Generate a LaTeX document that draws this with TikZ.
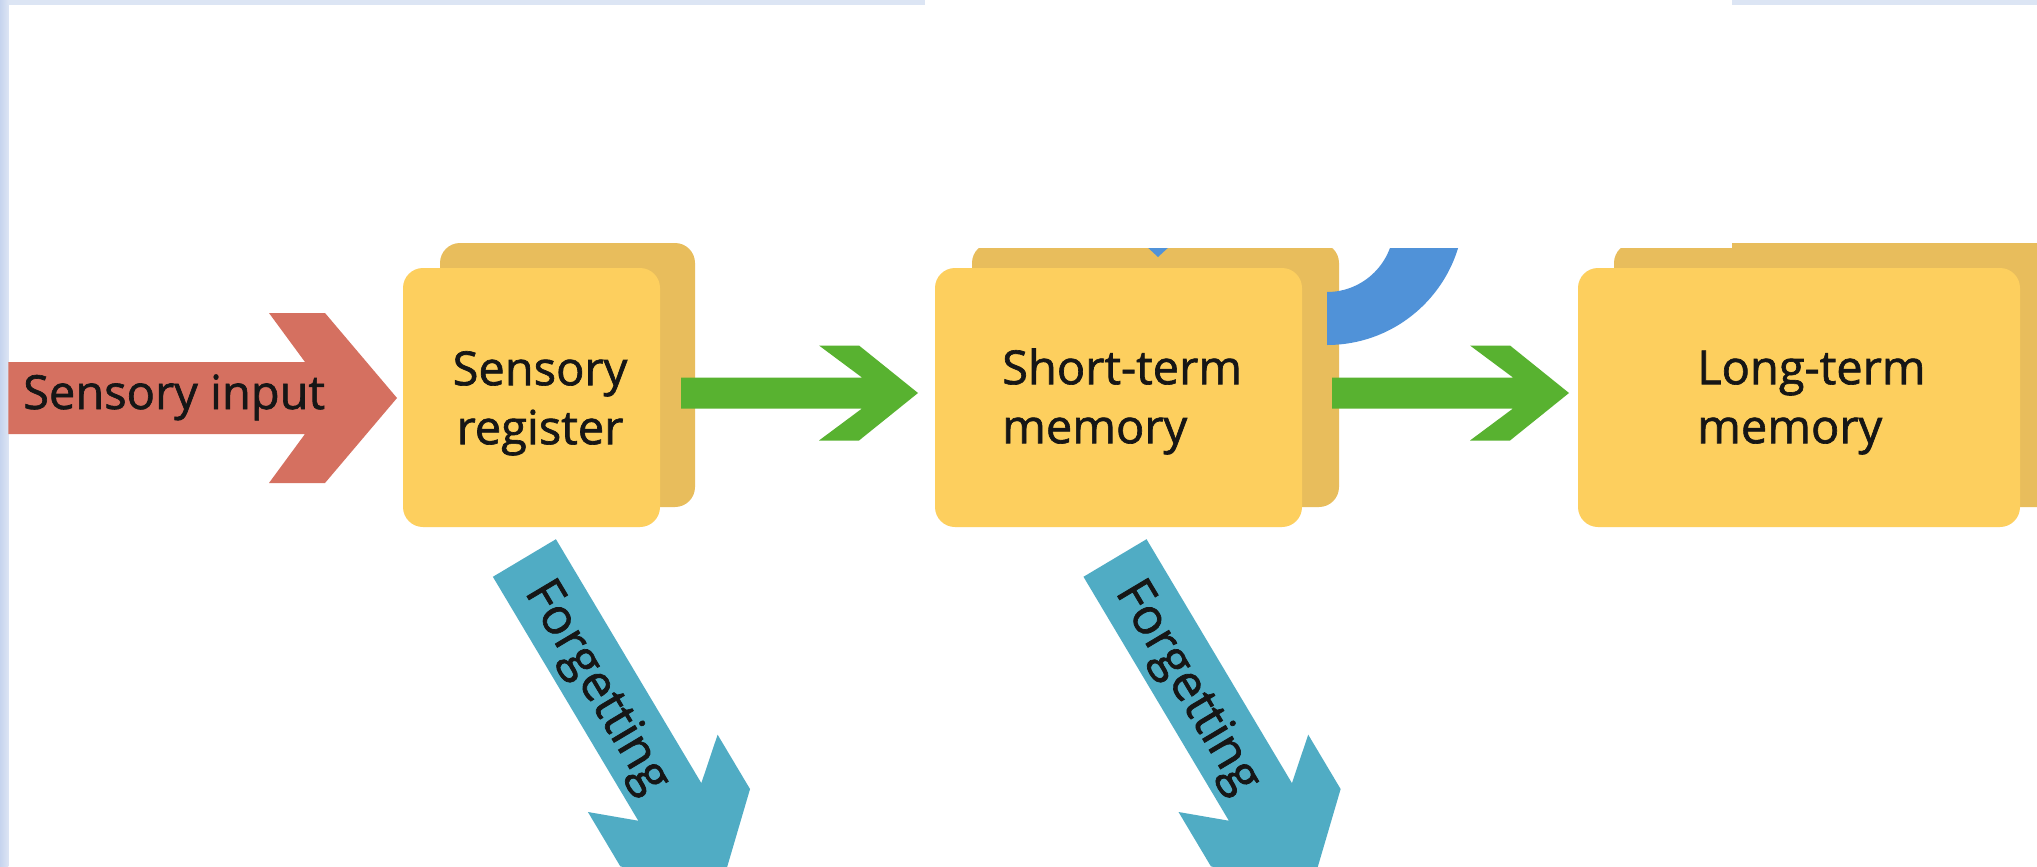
\documentclass[tikz,border=0pt]{standalone}
\usepackage{fontspec}
\setmainfont{Open Sans}[FakeBold=1.4]
\definecolor{frontY}{HTML}{FDCF5E}
\definecolor{backY}{HTML}{E8BD5C}
\definecolor{redA}{HTML}{D57060}
\definecolor{greenA}{HTML}{58B230}
\definecolor{tealA}{HTML}{50ACC4}
\definecolor{blueA}{HTML}{5092D8}
\definecolor{bandA}{HTML}{DCE5F4}
\definecolor{bandB}{HTML}{C6D4EE}
\definecolor{inkA}{HTML}{161616}
\tikzset{
  boxbase/.style={draw=none, rounded corners=20pt, inner sep=0pt, minimum height=259pt},
  frontbox/.style={boxbase, fill=frontY},
  backbox/.style={boxbase, fill=backY, minimum height=264pt},
  boxtext/.style={font=\fontsize{47}{59}\selectfont, text=inkA, inner sep=0pt},
  forgettext/.style={font=\fontsize{50}{60}\selectfont, text=inkA, inner sep=0pt, rotate=-59.2, anchor=base},
  redfill/.style={fill=redA},
  greenfill/.style={fill=greenA},
  tealfill/.style={fill=tealA},
  bluefill/.style={fill=blueA}
}
\begin{document}
\begin{tikzpicture}[x=1pt, y=-1pt]
\clip (0,0) rectangle (2037,867);
\fill[white] (0,0) rectangle (2037,867);
% frame bands
\fill[bandA] (0,0) rectangle (2037,5.5);
\shade[left color=bandB, right color=bandA] (0,0) rectangle (8.3,867);

% back boxes
\node[backbox, minimum width=255pt] (srback) at (567.5,375) {};
\node[backbox, minimum width=367pt] (stback) at (1155.5,375) {};
\node[backbox, minimum width=446pt] (ltback) at (1837,375) {};

% rehearsal loop (visible part)
\fill[bluefill] (1327,345) .. controls (1402.7,345) and (1464,283.7) .. (1464,208)
   -- (1464,150) -- (1394,150) -- (1394,225)
   .. controls (1394,262) and (1364,292) .. (1327,292) -- cycle;
\fill[bluefill] (1096,200) -- (1220,200) -- (1158,257) -- cycle;

% green arrows
\fill[greenfill] (681,377.5) -- (862,377.5) -- (819,345.5) -- (859,345.5) -- (918,393)
   -- (859,440.5) -- (819,440.5) -- (862,408.5) -- (681,408.5) -- cycle;
\begin{scope}[shift={(651,0)}]
\fill[greenfill] (681,377.5) -- (862,377.5) -- (819,345.5) -- (859,345.5) -- (918,393)
   -- (859,440.5) -- (819,440.5) -- (862,408.5) -- (681,408.5) -- cycle;
\end{scope}

% front boxes
\node[frontbox, minimum width=257pt] (sr) at (531.5,397.5) {};
\node[frontbox, minimum width=367pt] (st) at (1118.5,397.5) {};
\node[frontbox, minimum width=442pt] (lt) at (1799,397.5) {};

\node[boxtext, align=center, anchor=north] (srtext) at (540,349) {\rule{0pt}{36pt}Sensory\\register};
\node[boxtext, align=left, anchor=north west] (sttext) at (1002,348) {\rule{0pt}{36pt}Short-term\\memory};
\node[boxtext, align=left, anchor=north west] (lttext) at (1697,348) {\rule{0pt}{36pt}Long-term\\memory};

% sensory input arrow
\fill[redfill] (8.3,362) -- (305,362) -- (269,313) -- (325,313) -- (397,398) -- (325,483)
   -- (269,483) -- (305,434) -- (8.3,434) -- cycle;
\node[boxtext, anchor=base west] (input) at (23,409) {Sensory input};

% forgetting arrows
\begin{scope}[shift={(524.4,558)}, rotate=-59.2]
\fill[tealfill] (0,-36.7) -- (284,-36.7) -- (250.7,-75.5) -- (314,-75.5) -- (384,0)
   -- (314,75.5) -- (250.7,75.5) -- (284,36.7) -- (0,36.7) -- cycle;
\node[forgettext] (forget1) at (148,17.5) {Forgetting};
\end{scope}
\begin{scope}[shift={(1115,558)}, rotate=-59.2]
\fill[tealfill] (0,-36.7) -- (284,-36.7) -- (250.7,-75.5) -- (314,-75.5) -- (384,0)
   -- (314,75.5) -- (250.7,75.5) -- (284,36.7) -- (0,36.7) -- cycle;
\node[forgettext] (forget2) at (148,17.5) {Forgetting};
\end{scope}

% white patch covering the top
\fill[white] (925,0) rectangle (1732,248);
\end{tikzpicture}
\end{document}
